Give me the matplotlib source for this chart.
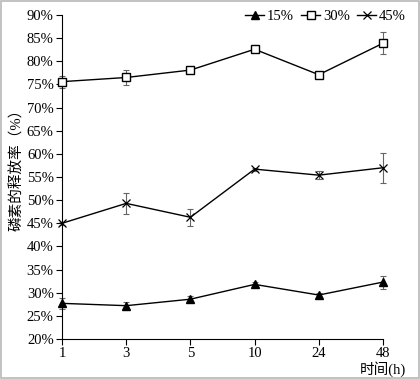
import numpy as np
import matplotlib
matplotlib.use('Agg')
import matplotlib.pyplot as plt
from matplotlib.patches import Rectangle

plt.rcParams['font.family'] = ['Liberation Serif', 'Noto Sans CJK SC', 'DejaVu Sans']

# data
times = ['1', '3', '5', '10', '24', '48']
rate_15 = [27.7, 27.2, 28.6, 31.8, 29.5, 32.3]
err_15 = [1.2, 0.8, 0.6, 0.5, 0.4, 1.4]
rate_30 = [75.6, 76.5, 78.1, 82.6, 77.1, 83.9]
err_30 = [1.3, 1.6, 0.4, 0.7, 0.3, 2.4]
rate_45 = [45.0, 49.3, 46.3, 56.7, 55.4, 57.0]
err_45 = [0.3, 2.2, 1.8, 0.3, 0.9, 3.2]

fig = plt.figure(figsize=(4.2, 3.79), dpi=100)
ax = fig.add_axes([62 / 420, 40 / 379, 321 / 420, 324 / 379])
fig.patches.append(Rectangle((0.002, 0.002), 0.996, 0.996, transform=fig.transFigure,
                             fill=False, edgecolor='#b8b8b8', linewidth=1.2))

x = np.arange(len(times))
series = [
    ('15%', rate_15, err_15, dict(marker='^', markersize=6, markerfacecolor='black')),
    ('30%', rate_30, err_30, dict(marker='s', markersize=5.5, markerfacecolor='white')),
    ('45%', rate_45, err_45, dict(marker='x', markersize=6, markeredgewidth=0.9)),
]
for label, vals, errs, mk in series:
    eb = ax.errorbar(x, vals, yerr=errs, fmt='none', ecolor='#666666', elinewidth=0.8,
                     capsize=2.5, capthick=0.8, zorder=2)
    for art in eb.get_children():
        art.set_clip_on(False)
    ax.plot(x, vals, color='black', linewidth=1.0, markeredgecolor='black',
            label=label, zorder=3, clip_on=False, **mk)

ax.set_xlim(0, len(times) - 1)
ax.set_ylim(20, 90)
ax.set_xticks(x)
ax.set_xticklabels(times)
yt = np.arange(20, 91, 5)
ax.set_yticks(yt)
ax.set_yticklabels(['%d%%' % v for v in yt])
ax.tick_params(direction='out', length=4, width=0.8, labelsize=10.5, colors='black', pad=2)
for s in ['top', 'right']:
    ax.spines[s].set_visible(False)
for s in ['left', 'bottom']:
    ax.spines[s].set_linewidth(0.8)
fig.text(17 / 420, 1 - 166 / 379, '磷素的释放率（%）', rotation=90, ha='center', va='center',
         fontsize=10.5)
fig.text(406 / 420, 1 - 369 / 379, '时间(h)', ha='right', va='center', fontsize=10.5)

ax.legend(loc='upper right', bbox_to_anchor=(1.09, 1.035), ncol=3, frameon=False,
          fontsize=10.5, handlelength=1.3, handletextpad=0.2, columnspacing=0.5,
          borderaxespad=0)

fig.savefig('out.png', dpi=100)
